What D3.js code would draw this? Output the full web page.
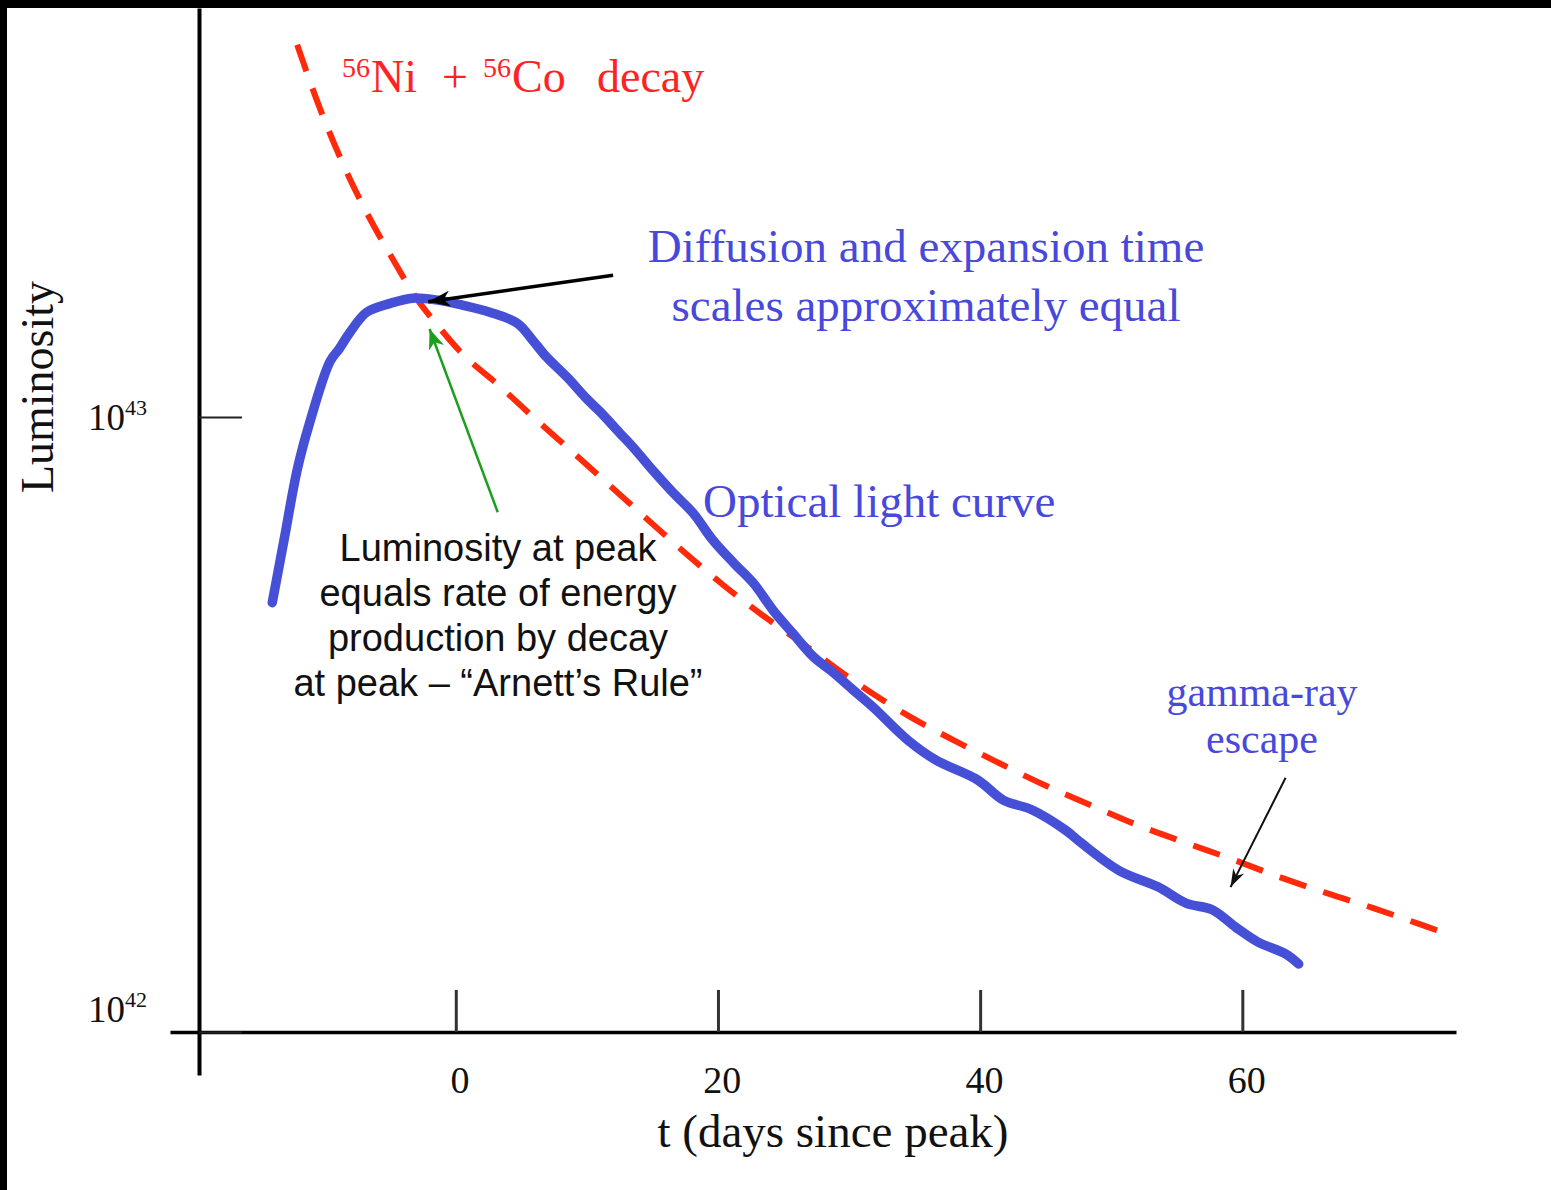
<!DOCTYPE html>
<html>
<head>
<meta charset="utf-8">
<script src="https://cdn.jsdelivr.net/npm/d3@7"></script>
<style>
body { margin: 0; background: #fff; }
svg { display: block; }
</style>
</head>
<body>
<div id="chart"></div>
<script>
// optical light curve: days since peak, luminosity in units of 1e42 erg/s
var lcDays = [-14.0,-13.1,-12.1,-11.2,-9.6,-8.9,-8.1,-6.8,-5.0,-3.3,-1.5,0.5,2.6,4.7,5.9,6.8,8.5,10.0,11.0,12.5,
              13.5,15.0,16.6,18.1,19.6,21.2,22.7,24.2,25.7,27.3,28.8,30.3,31.8,34.5,36.6,39.8,41.8,43.9,46.5,47.7,
              50.6,53.6,55.7,57.7,59.5,61.2,63.3,64.3];
var lcLum  = [4.99,6.31,8.20,9.70,12.3,12.9,13.7,14.8,15.3,15.6,15.5,15.2,14.8,14.2,13.3,12.6,11.6,10.7,10.2,9.42,
              8.94,8.20,7.52,6.98,6.31,5.79,5.37,4.85,4.45,4.07,3.84,3.60,3.38,2.98,2.77,2.57,2.38,2.30,2.13,2.03,
              1.83,1.72,1.62,1.58,1.48,1.40,1.34,1.29];

// 56Ni + 56Co decay energy deposition
var decayDays = [-12.1,-10.4,-8.5,-6.8,-4.9,-3.0,-1.4,0.3,3.4,5.9,8.9,11.5,14.6,17.5,20.4,23.4,26.4,29.9,34.7,38.0,
                 41.4,44.9,48.4,52.0,55.7,59.2,62.7,66.5,70.0,73.8,75.4];
var decayLum  = [40.3,31.9,25.5,21.5,18.2,15.6,14.1,12.8,11.2,10.0,8.77,7.82,6.82,6.01,5.33,4.76,4.29,3.78,3.25,2.98,
                 2.74,2.52,2.34,2.17,2.03,1.91,1.79,1.68,1.59,1.49,1.45];

var LUM_UNIT = 1e42;
var xTicks = [0, 20, 40, 60];
var yTicks = [1e42, 1e43];
var yTickExp = ["42", "43"];

// annotation arrows: [tailDay, tailLum, headDay, headLum] (lum in 1e42 units)
var arrowPeak  = [12.0, 17.0, -2.1, 15.4];
var arrowRule  = [3.2, 7.0, -2.0, 13.9];
var arrowGamma = [63.3, 2.59, 59.1, 1.72];

var serif = "'Liberation Serif','Times New Roman',serif",
    sans = "'Liberation Sans',Arial,sans-serif",
    blueText = "#4848dc",
    redText = "#ff2222";

var W = 1551, H = 1190;
var svg = d3.select("#chart").append("svg")
    .attr("width", W)
    .attr("height", H);

svg.append("rect").attr("width", W).attr("height", H).attr("fill", "#fff");
// dark frame edges of the scanned slide
svg.append("rect").attr("width", W).attr("height", 8).attr("fill", "#000");
svg.append("rect").attr("width", 7).attr("height", H).attr("fill", "#000");

// scales
var x = d3.scaleLinear().domain([-21.8, 76.3]).range([170, 1456]);
var y = d3.scaleLog().domain([Math.pow(10, 41.93), Math.pow(10, 43.665)]).range([1075, 8]);
var xAxisY = y(1e42);

// x axis: ticks point upward, labels below
var xAxis = d3.axisBottom(x)
    .tickValues(xTicks)
    .tickSize(-42)
    .tickSizeOuter(0)
    .tickPadding(34)
    .tickFormat(d3.format("d"));

var gx = svg.append("g")
    .attr("transform", "translate(0," + xAxisY + ")")
    .call(xAxis);
gx.select(".domain").attr("stroke", "#000").attr("stroke-width", 3.5);
gx.selectAll(".tick line").attr("stroke", "#333").attr("stroke-width", 3);
gx.selectAll(".tick text")
    .attr("font-family", serif)
    .attr("font-size", 38)
    .attr("fill", "#111")
    .attr("dx", "0.1em");

// y axis
var yAxis = d3.axisLeft(y)
    .tickValues(yTicks)
    .tickSize(-43)
    .tickSizeOuter(0)
    .tickPadding(52)
    .tickFormat("");

var gy = svg.append("g")
    .attr("transform", "translate(199,0)")
    .call(yAxis);
gy.select(".domain").attr("stroke", "#000").attr("stroke-width", 4);
gy.selectAll(".tick line").attr("stroke", "#222").attr("stroke-width", 2);
gy.selectAll(".tick text")
    .attr("font-family", serif)
    .attr("font-size", 37)
    .attr("fill", "#111")
    .attr("dy", function(d) { return d === 1e42 ? "-0.28em" : "0.34em"; })
    .each(function(d, i) {
        var t = d3.select(this);
        t.append("tspan").text("10");
        t.append("tspan").attr("font-size", 22).attr("dy", "-0.7em").text(yTickExp[i]);
    });

// axis titles
svg.append("text")
    .attr("transform", "translate(53,387) rotate(-90)")
    .attr("text-anchor", "middle")
    .attr("font-family", serif)
    .attr("font-size", 46)
    .attr("fill", "#111")
    .text("Luminosity");

svg.append("text")
    .attr("x", 833)
    .attr("y", 1147)
    .attr("text-anchor", "middle")
    .attr("font-family", serif)
    .attr("font-size", 47)
    .attr("fill", "#111")
    .text("t (days since peak)");

// curves
var lcData = lcDays.map(function(d, i) { return {t: d, L: lcLum[i] * LUM_UNIT}; });
var decayData = decayDays.map(function(d, i) { return {t: d, L: decayLum[i] * LUM_UNIT}; });

var line = d3.line()
    .x(function(d) { return x(d.t); })
    .y(function(d) { return y(d.L); })
    .curve(d3.curveCatmullRom.alpha(0.5));

var smoothLine = d3.line()
    .x(function(d) { return x(d.t); })
    .y(function(d) { return y(d.L); })
    .curve(d3.curveMonotoneX);

svg.append("path")
    .datum(decayData)
    .attr("d", smoothLine)
    .attr("fill", "none")
    .attr("stroke", "#ff2a0a")
    .attr("stroke-width", 6)
    .attr("stroke-dasharray", "28,18");

svg.append("path")
    .datum(lcData)
    .attr("d", line)
    .attr("fill", "none")
    .attr("stroke", "#4650d6")
    .attr("stroke-width", 9.5)
    .attr("stroke-linecap", "round")
    .attr("stroke-linejoin", "round");

// arrow heads
var defs = svg.append("defs");
function marker(id, color, len, wid) {
    defs.append("marker")
        .attr("id", id)
        .attr("markerUnits", "userSpaceOnUse")
        .attr("viewBox", "0 0 " + len + " " + wid)
        .attr("refX", len)
        .attr("refY", wid / 2)
        .attr("markerWidth", len)
        .attr("markerHeight", wid)
        .attr("orient", "auto")
        .append("path")
        .attr("d", "M0,0L" + len + "," + (wid / 2) + "L0," + wid + "L" + (len * 0.3) + "," + (wid / 2) + "Z")
        .attr("fill", color);
}
marker("headBlack", "#000", 22, 16);
marker("headGreen", "#1e9e1e", 20, 16);
marker("headSmall", "#111", 18, 12);

function arrow(a, color, w, head) {
    svg.append("line")
        .attr("x1", x(a[0])).attr("y1", y(a[1] * LUM_UNIT))
        .attr("x2", x(a[2])).attr("y2", y(a[3] * LUM_UNIT))
        .attr("stroke", color)
        .attr("stroke-width", w)
        .attr("marker-end", "url(#" + head + ")");
}
arrow(arrowPeak, "#000", 3.5, "headBlack");
arrow(arrowRule, "#1e9e1e", 2.5, "headGreen");
arrow(arrowGamma, "#111", 2, "headSmall");

// decay label with superscripts
var decayLabel = svg.append("text")
    .attr("y", 92)
    .attr("font-family", serif)
    .attr("font-size", 46)
    .attr("fill", redText);
decayLabel.append("tspan").attr("x", 342).attr("y", 77).attr("font-size", 28).text("56");
decayLabel.append("tspan").attr("x", 371).attr("y", 92).text("Ni");
decayLabel.append("tspan").attr("x", 442).attr("y", 92).text("+");
decayLabel.append("tspan").attr("x", 483).attr("y", 77).attr("font-size", 28).text("56");
decayLabel.append("tspan").attr("x", 512).attr("y", 92).text("Co");
decayLabel.append("tspan").attr("x", 597).attr("y", 92).text("decay");

// annotations
function label(lines, cx, y0, dy, size, color, family, anchor) {
    var t = svg.append("text")
        .attr("font-family", family)
        .attr("font-size", size)
        .attr("fill", color)
        .attr("text-anchor", anchor || "middle");
    lines.forEach(function(s, i) {
        t.append("tspan").attr("x", cx).attr("y", y0 + i * dy).text(s);
    });
}
label(["Diffusion and expansion time", "scales approximately equal"], 926, 262, 59, 47, blueText, serif);
label(["Optical light curve"], 703, 517, 0, 47, blueText, serif, "start");
label(["gamma-ray", "escape"], 1262, 706, 47, 42, blueText, serif);
label(["Luminosity at peak", "equals rate of energy", "production by decay", "at peak \u2013 \u201cArnett\u2019s Rule\u201d"],
      498, 561, 45, 38, "#111", sans);
</script>
</body>
</html>
